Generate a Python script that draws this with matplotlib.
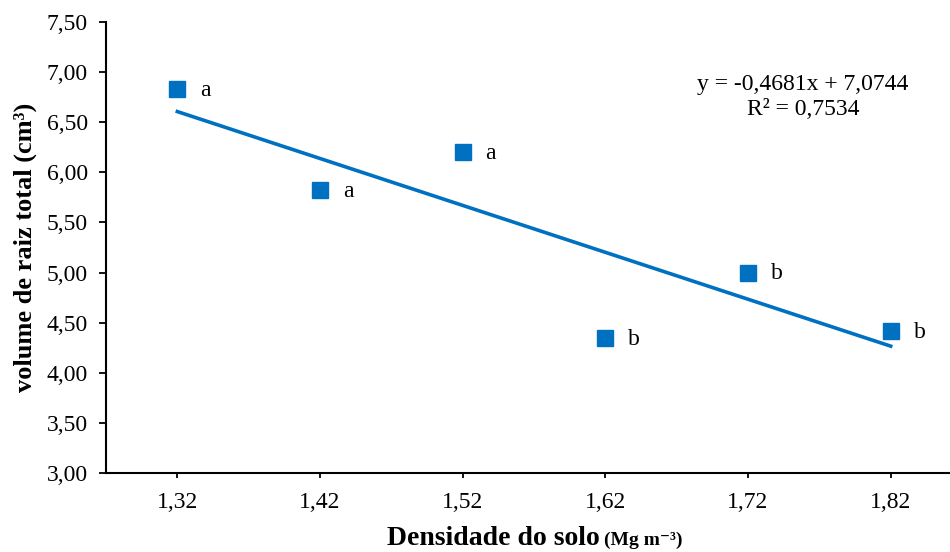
import numpy as np
import matplotlib
matplotlib.use("Agg")
import matplotlib.pyplot as plt

# soil density classes and total root volume
densities = ["1,32", "1,42", "1,52", "1,62", "1,72", "1,82"]
root_volume = [6.83, 5.82, 6.20, 4.35, 5.00, 4.42]
letters = ["a", "a", "a", "b", "b", "b"]

# linear fit over class index (1..6)
slope = -0.4681
intercept = 7.0744
r2 = 0.7534

yticks = np.arange(3.0, 7.51, 0.5)

plt.rcParams["font.family"] = ["Liberation Serif", "DejaVu Serif"]

blue = "#0070C0"

fig = plt.figure(figsize=(9.5, 5.52), dpi=100)
ax = fig.add_axes([106 / 950, 1 - 473 / 552, (962 - 106) / 950, (473 - 22) / 552])

x = np.arange(1, len(densities) + 1)
ax.plot(x, root_volume, linestyle="none", marker="s", markersize=11,
        color=blue, zorder=3)

xfit = np.array([x[0], x[-1]])
ax.plot(xfit, slope * xfit + intercept, color=blue, linewidth=2.6, zorder=2)

for xi, yi, lt in zip(x, root_volume, letters):
    ax.annotate(lt, (xi, yi), xytext=(16.5, -1), textcoords="offset points",
                ha="left", va="center", fontsize=17)

ax.text(0.814, 0.862, f"y = {slope:.4f}x + {intercept:.4f}".replace(".", ","),
        transform=ax.transAxes, ha="center", va="center", fontsize=17)
ax.text(0.814, 0.805, f"R² = {r2:.4f}".replace(".", ","),
        transform=ax.transAxes, ha="center", va="center", fontsize=17)

ax.set_xlim(0.5, 6.5)
ax.set_ylim(3.0, 7.5)
ax.set_xticks(x)
ax.set_xticklabels(densities)
ax.set_yticks(yticks)
ax.set_yticklabels([f"{v:.2f}".replace(".", ",") for v in yticks])

for side in ["top", "right"]:
    ax.spines[side].set_visible(False)
for side in ["left", "bottom"]:
    ax.spines[side].set_linewidth(1.5)

ax.tick_params(axis="y", direction="out", length=5, width=1.3, pad=8, labelsize=17)
ax.tick_params(axis="x", direction="out", length=3.6, width=1.3, pad=10, labelsize=17)

ax.set_ylabel("volume de raiz total (cm³)", fontsize=19, fontweight="bold",
              labelpad=7)

fig.text(600 / 950, 0.012, "Densidade do solo", ha="right", va="baseline",
         fontsize=20, fontweight="bold")
fig.text(604 / 950, 0.012, "(Mg m⁻³)", ha="left", va="baseline",
         fontsize=14, fontweight="bold")

fig.savefig("out.png", dpi=100)
plt.close(fig)
